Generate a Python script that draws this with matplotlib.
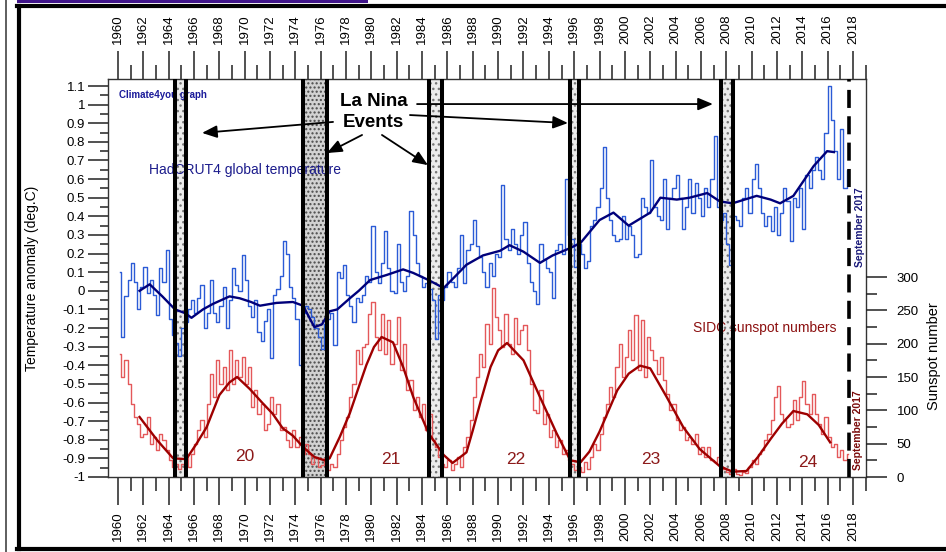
import matplotlib.pyplot as plt
import numpy as np
from matplotlib.lines import Line2D
from matplotlib.patches import Rectangle

plt.rcParams['font.family'] = ['Liberation Sans', 'DejaVu Sans']

# HadCRUT4 anomaly, quarterly values (1960 Q1 .. 2017 Q3)
temp_q = [
    0.10, -0.25, -0.03, 0.06,
    0.15, 0.05, -0.10, 0.02,
    0.13, -0.01, 0.06, -0.02,
    -0.13, 0.12, 0.05, 0.22,
    -0.15, -0.24, -0.28, -0.35,
    -0.20, -0.17, -0.10, -0.05,
    -0.12, -0.04, 0.03, -0.20,
    -0.12, 0.06, -0.12, -0.17,
    -0.08, 0.02, -0.20, -0.05,
    0.12, 0.03, 0.00, 0.19,
    0.06, -0.08, -0.14, -0.05,
    -0.22, -0.27, -0.16, -0.10,
    -0.36, -0.02, 0.01, 0.08,
    0.27, 0.20, 0.02, -0.04,
    -0.15, -0.40, -0.12, -0.08,
    -0.10, -0.14, -0.20, -0.25,
    -0.31, -0.18, -0.15, -0.12,
    -0.29, 0.10, 0.07, 0.14,
    -0.02, -0.08, -0.17, -0.04,
    -0.06, -0.02, 0.08, 0.05,
    0.35, 0.10, 0.04, 0.15,
    0.32, 0.12, 0.00, -0.01,
    0.25, 0.05, 0.00, 0.08,
    0.43, 0.30, 0.15, 0.08,
    0.02, 0.04, 0.01, -0.05,
    -0.26, -0.02, -0.05, 0.02,
    0.10, 0.05, 0.02, 0.12,
    0.30, 0.04, 0.22, 0.25,
    0.38, 0.24, 0.18, 0.10,
    0.02, 0.15, 0.08, 0.20,
    0.18, 0.57, 0.28, 0.22,
    0.33, 0.25, 0.20, 0.30,
    0.37, 0.15, 0.05, 0.00,
    -0.07, 0.25, 0.17, 0.12,
    0.10, -0.04, 0.22, 0.25,
    0.20, 0.60, 0.30, 0.28,
    0.13, 0.25, 0.20, 0.12,
    0.16, 0.35, 0.38, 0.45,
    0.55, 0.77, 0.50, 0.38,
    0.30, 0.27, 0.28, 0.40,
    0.28, 0.35, 0.30, 0.18,
    0.20, 0.50, 0.45, 0.42,
    0.70, 0.45, 0.40, 0.38,
    0.60, 0.33, 0.50, 0.55,
    0.62, 0.50, 0.33, 0.45,
    0.60, 0.42, 0.58, 0.50,
    0.40, 0.55, 0.45, 0.60,
    0.83, 0.45, 0.38, 0.42,
    0.25, 0.14, 0.40, 0.38,
    0.35, 0.50, 0.55, 0.42,
    0.60, 0.68, 0.55, 0.42,
    0.35, 0.40, 0.32, 0.45,
    0.30, 0.42, 0.55, 0.48,
    0.27, 0.50, 0.45, 0.55,
    0.33, 0.62, 0.55, 0.65,
    0.72, 0.65, 0.60, 0.85,
    1.10, 0.92, 0.75, 0.60,
    0.87, 0.55, 0.65,
]

# SIDC sunspot number, quarterly values
sun_q = [
    185, 150, 175, 140,
    110, 90, 80, 60,
    65, 90, 50, 60,
    40, 65, 55, 40,
    25, 15, 20, 12,
    20, 30, 15, 35,
    50, 70, 85, 60,
    110, 155, 120, 175,
    140, 165, 130, 190,
    140, 175, 150, 180,
    140, 165, 105, 130,
    95, 110, 70, 80,
    120, 95, 110, 70,
    75, 55, 45, 70,
    45, 60, 35, 50,
    35, 20, 30, 15,
    18, 28, 10, 20,
    15, 35, 55, 75,
    90, 120, 140, 190,
    170, 195, 200, 245,
    262, 210, 190, 245,
    185, 235, 170, 200,
    240, 160, 200, 130,
    145, 100, 120, 90,
    110, 70, 95, 55,
    45, 30, 20, 15,
    25, 10, 20, 30,
    15, 45, 60, 85,
    120, 150, 185, 165,
    230, 200, 283, 240,
    220, 195, 245, 200,
    185, 238, 200, 220,
    228, 190, 140, 100,
    96, 130, 80, 95,
    60, 70, 45, 55,
    35, 40, 25, 20,
    10, 15, 8, 22,
    12, 30, 50, 40,
    65, 90, 110, 135,
    120, 165, 200, 150,
    180, 220, 175, 243,
    160, 235, 150, 210,
    190, 175, 155, 180,
    145, 125, 100, 110,
    85, 70, 75, 55,
    60, 50, 65, 35,
    45, 30, 45, 25,
    22, 30, 15, 12,
    8, 5, 12, 4,
    3, 8, 6, 15,
    25, 20, 35, 40,
    55, 65, 85, 120,
    137, 95, 85, 75,
    80, 115, 85, 120,
    144, 110, 95, 125,
    95, 80, 65, 90,
    60, 45, 50, 30,
    40, 25, 35,
]

# 37-month running averages
temp_smooth_year = [1961.7, 1962.5, 1963.5, 1964.5, 1965.3, 1965.8, 1966.7, 1967.5, 1968.8,
                    1969.6, 1970.5, 1971.2, 1972.5, 1973.8, 1974.6, 1975.5, 1976.1, 1976.7,
                    1977.3, 1978.3, 1979.0, 1979.9, 1981.2, 1982.5, 1983.3, 1984.5, 1985.7,
                    1986.5, 1987.5, 1988.8, 1990.15, 1990.9, 1992.0, 1993.3, 1994.3, 1995.7,
                    1996.5, 1998.0, 1999.1, 2000.3, 2002.0, 2002.8, 2004.1, 2005.1, 2006.5,
                    2007.5, 2008.5, 2010.4, 2011.5, 2012.25, 2013.3, 2014.0, 2014.9, 2015.96,
                    2016.5]
temp_smooth = [0.00, 0.035, -0.03, -0.10, -0.12, -0.145, -0.10, -0.07, -0.03,
               -0.04, -0.06, -0.08, -0.065, -0.06, -0.08, -0.195, -0.18, -0.11,
               -0.10, -0.04, 0.00, 0.058, 0.085, 0.115, 0.096, 0.058, 0.015,
               0.07, 0.14, 0.19, 0.215, 0.245, 0.21, 0.15, 0.19, 0.23,
               0.257, 0.38, 0.42, 0.35, 0.42, 0.50, 0.49, 0.50, 0.525,
               0.48, 0.47, 0.51, 0.49, 0.47, 0.51, 0.58, 0.67, 0.75,
               0.745]

sun_smooth_year = [1961.7, 1962.5, 1963.1, 1964.35, 1965.2, 1965.5, 1966.2, 1967.0, 1968.0,
                   1968.8, 1969.4, 1970.4, 1971.4, 1972.2, 1973.0, 1973.8, 1974.6, 1975.5,
                   1976.3, 1976.7, 1977.5, 1978.3, 1979.0, 1979.6, 1980.2, 1980.8, 1981.7,
                   1982.5, 1983.3, 1984.5, 1985.7, 1986.4, 1987.5, 1988.0, 1988.6, 1989.4,
                   1990.0, 1990.7, 1992.0, 1993.3, 1994.6, 1995.7, 1996.5, 1997.2, 1998.0,
                   1999.4, 2000.3, 2001.2, 2002.0, 2003.3, 2004.6, 2005.9, 2007.5, 2008.5,
                   2009.6, 2010.5, 2011.5, 2012.4, 2013.3, 2014.4, 2015.3, 2016.2]
sun_smooth = [90, 70, 55, 28, 27, 30, 50, 75, 123,
              142, 150, 132, 111, 95, 73, 62, 45, 30,
              25, 28, 60, 96, 135, 168, 195, 210, 202,
              165, 120, 66, 33, 21, 37, 70, 112, 165,
              190, 201, 175, 120, 66, 25, 22, 38, 68,
              130, 155, 167, 163, 120, 75, 42, 16, 8,
              9, 30, 57, 80, 99, 94, 78, 52]

lanina_start = [1964.49, 1974.62, 1984.57, 1995.67, 2007.57]
lanina_end = [1965.37, 1976.46, 1985.57, 1996.41, 2008.51]
last_month = 2017.67

t_q = 1960.125 + 0.25 * np.arange(len(temp_q))

fig = plt.figure(figsize=(9.46, 5.52), dpi=100)
ax = fig.add_axes([108 / 946, 1 - 477 / 552, 758 / 946, 398 / 552])
ax2 = ax.twinx()

ax.set_xlim(1959.21, 2019.03)
ax.set_ylim(-1, 1.1376)
ax2.set_ylim(0, 597)

# La Nina bands
for i, (a, b) in enumerate(zip(lanina_start, lanina_end)):
    dense = i == 1
    ax.axvspan(a, b, facecolor='#d2d2d2' if dense else '#ececec',
               hatch='....' if dense else '...', edgecolor='#4a4a4a' if dense else '#777777',
               lw=0, zorder=0.5)
    for x in (a, b):
        ax2.axvline(x, color='black', lw=2.9, zorder=6)

ax2.axvline(last_month, color='black', lw=2.6, ls=(0, (5.0, 2.3)), zorder=6)

# temperature
ax.plot(t_q, temp_q, color='#2b5bd6', lw=1.0, drawstyle='steps-mid', zorder=2)
ax.plot(temp_smooth_year, temp_smooth, color='#00007a', lw=1.7, zorder=3)

# sunspots
ax2.plot(t_q, sun_q, color='#e4585a', lw=1.0, drawstyle='steps-mid', zorder=2)
ax2.plot(sun_smooth_year, sun_smooth, color='#9e0000', lw=1.7, zorder=3)

# axes styling
for s in ax.spines.values():
    s.set_color('#333333')
    s.set_linewidth(1.0)
for s in ax2.spines.values():
    s.set_visible(False)

ax.set_xticks(range(1960, 2019, 2))
ax.set_xticks(range(1960, 2020), minor=True)
ax.tick_params(axis='x', which='both', top=True, labeltop=True, bottom=True,
               labelbottom=True, labelrotation=90, labelsize=9.5, width=1.1,
               color='#222222')
ax.tick_params(axis='x', which='major', length=20, pad=5)
ax.tick_params(axis='x', which='minor', length=10)

yt = [round(0.1 * k, 1) for k in range(-10, 12)]
ax.set_yticks(yt)
ax.set_yticklabels([f'{v:g}' for v in yt])
ax.set_yticks([v + 0.05 for v in yt[:-1]], minor=True)
ax.tick_params(axis='y', which='both', left=True, right=False, labelsize=9.5,
               width=1.1, color='#222222', pad=2)
ax.tick_params(axis='y', which='major', length=14.5)
ax.tick_params(axis='y', which='minor', length=6)
ax.set_ylabel('Temperature anomaly (deg.C)', fontsize=10)
ax.yaxis.set_label_coords(-0.091, 0.5)

ax2.set_yticks(range(0, 301, 50))
ax2.set_yticks(range(25, 300, 50), minor=True)
ax2.tick_params(axis='y', which='both', right=True, labelsize=9.5, width=1.1,
                color='#222222', pad=7)
ax2.tick_params(axis='y', which='major', length=15)
ax2.tick_params(axis='y', which='minor', length=8)
ax2.set_ylabel('Sunspot number', fontsize=10.5)
ax2.yaxis.set_label_coords(1.081, 0.304)

# annotations
ax.text(1960.08, 1.052, 'Climate4you graph', fontsize=7, fontweight='bold',
        color='#1a1a9a', va='center', zorder=4)
ax.text(1962.45, 0.649, 'HadCRUT4 global temperature', fontsize=10,
        color='#1c1c8c', va='center', zorder=4)
ax.text(1980.15, 0.960, 'La Nina\nEvents', fontsize=13.5, fontweight='bold',
        ha='center', va='center', linespacing=1.25, zorder=7)
ax2.text(2005.38, 223, 'SIDC sunspot numbers', fontsize=10, color='#8c1010',
         va='center', zorder=4)

for name, x, y in [('20', 1970.0, 31), ('21', 1981.55, 27), ('22', 1991.4, 27),
                   ('23', 2002.05, 27), ('24', 2014.45, 22)]:
    ax2.text(x, y, name, fontsize=12.5, color='#8c1a1a', ha='center', va='center')

ax.text(2018.55, 0.343, 'September 2017', rotation=90, fontsize=7.5,
        fontweight='bold', color='#1a1a7a', ha='center', va='center')
ax.text(2018.4, -0.748, 'September 2017', rotation=90, fontsize=7.5,
        fontweight='bold', color='#7a0a0a', ha='center', va='center')

arrow = dict(arrowstyle='-|>,head_length=0.6,head_width=0.25', color='black',
             lw=1.3, mutation_scale=15, shrinkA=0, shrinkB=0)
for tail, head in [((1976.97, 0.907), (1966.63, 0.848)),
                   ((1979.26, 0.837), (1976.49, 0.740)),
                   ((1980.83, 0.837), (1984.46, 0.675)),
                   ((1983.6, 1.003), (2006.95, 1.003)),
                   ((1983.04, 0.944), (1995.51, 0.901))]:
    ax2.annotate('', xy=head, xytext=tail, xycoords=ax.transData,
                 textcoords=ax.transData, arrowprops=arrow, zorder=7)

# outer frame of the picture
def px_line(x0, y0, x1, y1, **kw):
    fig.add_artist(Line2D([x0 / 946, x1 / 946], [1 - y0 / 552, 1 - y1 / 552],
                          transform=fig.transFigure, **kw))

px_line(19, 6, 19, 549, color='black', lw=3.0)
px_line(17, 6, 946, 6, color='black', lw=3.0)
px_line(17, 549, 946, 549, color='black', lw=3.0)
px_line(5.5, 0, 5.5, 552, color='#333333', lw=1.1)
fig.add_artist(Rectangle((17 / 946, 1 - 3 / 552), 351 / 946, 3 / 552,
                         transform=fig.transFigure, color='#40148a', lw=0))

fig.savefig('out.png', dpi=100)
